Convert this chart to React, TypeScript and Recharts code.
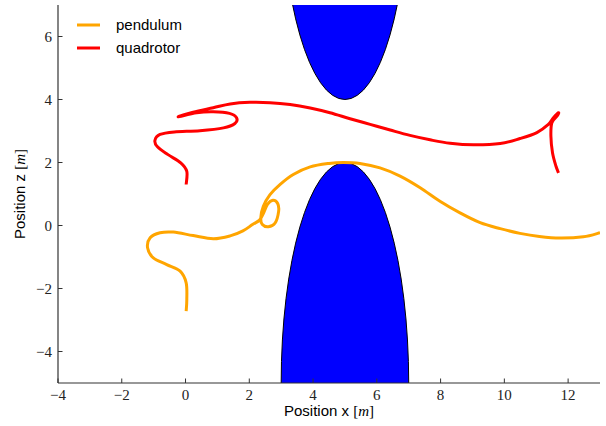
import React from "react";
import { ComposedChart, Line, XAxis, YAxis, Legend, ReferenceArea } from "recharts";

// trajectories (x, z in metres)
const pendulum = [
  { x: 0.02, y: -2.72 }, { x: 0.04, y: -2.35 }, { x: 0.02, y: -1.82 }, { x: -0.17, y: -1.45 },
  { x: -0.59, y: -1.24 }, { x: -1.01, y: -1.03 }, { x: -1.19, y: -0.71 }, { x: -1.11, y: -0.39 },
  { x: -0.8, y: -0.23 }, { x: -0.38, y: -0.21 }, { x: 0.24, y: -0.32 }, { x: 0.87, y: -0.42 },
  { x: 1.4, y: -0.33 }, { x: 1.8, y: -0.17 }, { x: 2.1, y: 0.03 }, { x: 2.32, y: 0.17 },
  { x: 2.44, y: 0.38 }, { x: 2.57, y: 0.67 }, { x: 2.74, y: 0.8 }, { x: 2.89, y: 0.7 },
  { x: 2.92, y: 0.45 }, { x: 2.81, y: 0.08 }, { x: 2.6, y: -0.04 }, { x: 2.41, y: 0.03 },
  { x: 2.36, y: 0.24 }, { x: 2.44, y: 0.61 }, { x: 2.65, y: 0.98 }, { x: 2.96, y: 1.3 },
  { x: 3.38, y: 1.62 }, { x: 3.91, y: 1.86 }, { x: 4.5, y: 1.97 }, { x: 4.95, y: 2.0 },
  { x: 5.47, y: 1.97 }, { x: 6.1, y: 1.83 }, { x: 6.73, y: 1.57 }, { x: 7.36, y: 1.2 },
  { x: 7.98, y: 0.77 }, { x: 8.61, y: 0.4 }, { x: 9.24, y: 0.09 }, { x: 9.87, y: -0.1 },
  { x: 10.49, y: -0.25 }, { x: 11.1, y: -0.35 }, { x: 11.75, y: -0.4 }, { x: 12.48, y: -0.36 },
  { x: 13.0, y: -0.23 },
];

const quadrotor = [
  { x: 0.02, y: 1.3 }, { x: 0.04, y: 1.72 }, { x: -0.15, y: 1.99 }, { x: -0.55, y: 2.25 },
  { x: -0.88, y: 2.5 }, { x: -0.96, y: 2.7 }, { x: -0.8, y: 2.89 }, { x: -0.35, y: 2.97 },
  { x: 0.45, y: 3.01 }, { x: 1.19, y: 3.1 }, { x: 1.55, y: 3.24 }, { x: 1.6, y: 3.42 },
  { x: 1.38, y: 3.56 }, { x: 0.87, y: 3.61 }, { x: 0.35, y: 3.58 }, { x: -0.23, y: 3.45 },
  { x: 0.24, y: 3.6 }, { x: 0.87, y: 3.74 }, { x: 1.4, y: 3.86 }, { x: 2.02, y: 3.91 },
  { x: 2.65, y: 3.9 }, { x: 3.28, y: 3.84 }, { x: 3.91, y: 3.73 }, { x: 4.53, y: 3.58 },
  { x: 5.16, y: 3.39 }, { x: 5.79, y: 3.21 }, { x: 6.42, y: 3.03 }, { x: 7.04, y: 2.86 },
  { x: 7.67, y: 2.72 }, { x: 8.3, y: 2.61 }, { x: 9.03, y: 2.56 }, { x: 9.87, y: 2.6 },
  { x: 10.49, y: 2.76 }, { x: 11.02, y: 2.95 }, { x: 11.38, y: 3.21 }, { x: 11.54, y: 3.42 },
  { x: 11.7, y: 3.58 }, { x: 11.65, y: 3.47 }, { x: 11.49, y: 3.26 }, { x: 11.46, y: 2.84 },
  { x: 11.51, y: 2.31 }, { x: 11.62, y: 1.88 }, { x: 11.7, y: 1.67 },
];

// obstacles: bounding boxes of the two ellipses
const obstacles = [
  { x1: 3, x2: 7, y1: -12, y2: 2 },
  { x1: 3, x2: 7, y1: 4, y2: 18 },
];

const xTicks = [-4, -2, 0, 2, 4, 6, 8, 10, 12];
const yTicks = [-4, -2, 0, 2, 4, 6];

const SERIF = "'Liberation Serif', 'DejaVu Serif', serif";
const SANS = "'Liberation Sans', Arial, sans-serif";
const AXIS = "#333";
const TICK_LEN = 4.5;

const fmt = (v: number) => String(v).replace("-", "\u2212");

// Catmull-Rom curve factory (passes through every point, works for loops)
function catmullRom(context: any) {
  let pts: number[][] = [];
  return {
    areaStart() {},
    areaEnd() {},
    lineStart() {
      pts = [];
    },
    point(x: number, y: number) {
      pts.push([+x, +y]);
    },
    lineEnd() {
      if (!pts.length) return;
      context.moveTo(pts[0][0], pts[0][1]);
      for (let i = 0; i < pts.length - 1; i++) {
        const p0 = pts[i - 1] || pts[i];
        const p1 = pts[i];
        const p2 = pts[i + 1];
        const p3 = pts[i + 2] || p2;
        context.bezierCurveTo(
          p1[0] + (p2[0] - p0[0]) / 6,
          p1[1] + (p2[1] - p0[1]) / 6,
          p2[0] - (p3[0] - p1[0]) / 6,
          p2[1] - (p3[1] - p1[1]) / 6,
          p2[0],
          p2[1]
        );
      }
    },
  };
}

const BottomTick = (props: any) => {
  const { x, y, payload } = props;
  return (
    <g>
      <line x1={x} x2={x} y1={y} y2={y - TICK_LEN} stroke={AXIS} />
      <text x={x} y={y + 17} textAnchor="middle" fontFamily={SERIF} fontSize={15} fill="#222">
        {fmt(payload.value)}
      </text>
    </g>
  );
};

const TopTick = (props: any) => {
  const { x, y } = props;
  return <line x1={x} x2={x} y1={y} y2={y + TICK_LEN} stroke={AXIS} />;
};

const LeftTick = (props: any) => {
  const { x, y, payload } = props;
  return (
    <g>
      <line x1={x} x2={x + TICK_LEN} y1={y} y2={y} stroke={AXIS} />
      <text x={x - 6} y={y + 5} textAnchor="end" fontFamily={SERIF} fontSize={15} fill="#222">
        {fmt(payload.value)}
      </text>
    </g>
  );
};

const RightTick = (props: any) => {
  const { x, y } = props;
  return <line x1={x} x2={x - TICK_LEN} y1={y} y2={y} stroke={AXIS} />;
};

const EllipseShape = (props: any) => {
  const { x, y, width, height, clipPath } = props;
  return (
    <ellipse
      cx={x + width / 2}
      cy={y + height / 2}
      rx={Math.abs(width) / 2}
      ry={Math.abs(height) / 2}
      fill="#0000ff"
      stroke="#000"
      strokeWidth={1}
      clipPath={clipPath}
    />
  );
};

const unitLabel = (name: string) => (
  <>
    <tspan fontFamily={SANS}>{name} </tspan>
    <tspan fontFamily={SERIF}>[</tspan>
    <tspan fontFamily={SERIF} fontStyle="italic">m</tspan>
    <tspan fontFamily={SERIF}>]</tspan>
  </>
);

const XLabel = (props: any) => {
  const { x, y, width } = props.viewBox;
  return (
    <text x={x + width / 2} y={y + 33} textAnchor="middle" fontSize={15} fill="#000">
      {unitLabel("Position x")}
    </text>
  );
};

const YLabel = (props: any) => {
  const { y, height } = props.viewBox;
  const cx = 25;
  const cy = y + height / 2;
  return (
    <text x={cx} y={cy} transform={`rotate(-90, ${cx}, ${cy})`} textAnchor="middle" fontSize={15} fill="#000">
      {unitLabel("Position z")}
    </text>
  );
};

const LegendContent = (props: any) => (
  <div style={{ fontFamily: SANS, fontSize: 15, color: "#000" }}>
    {(props.payload || []).map((e: any) => (
      <div key={e.value} style={{ display: "flex", alignItems: "center", height: 23 }}>
        <svg width={23} height={6}>
          <line x1={0} x2={23} y1={3} y2={3} stroke={e.color} strokeWidth={3} />
        </svg>
        <span style={{ marginLeft: 16 }}>{e.value}</span>
      </div>
    ))}
  </div>
);

export default function App() {
  return (
    <div style={{ position: "absolute", left: 0, top: 0 }}>
      <ComposedChart width={606} height={426} margin={{ top: 5, right: 6, bottom: 0, left: 0 }}>
        <XAxis
          dataKey="x"
          type="number"
          domain={[-4, 13]}
          allowDataOverflow
          ticks={xTicks}
          interval={0}
          tickSize={0}
          tickMargin={0}
          tickLine={false}
          tick={<BottomTick />}
          axisLine={{ stroke: AXIS, strokeWidth: 1.2 }}
          height={43}
          label={{ content: <XLabel /> }}
        />
        <XAxis
          xAxisId="top"
          orientation="top"
          type="number"
          domain={[-4, 13]}
          allowDataOverflow
          ticks={xTicks}
          interval={0}
          tickSize={0}
          tickMargin={0}
          tickLine={false}
          tick={<TopTick />}
          axisLine={{ stroke: AXIS, strokeWidth: 1.2 }}
          height={0}
        />
        <YAxis
          type="number"
          domain={[-5, 7]}
          allowDataOverflow
          ticks={yTicks}
          interval={0}
          tickSize={0}
          tickMargin={0}
          tickLine={false}
          tick={<LeftTick />}
          axisLine={{ stroke: AXIS, strokeWidth: 1.2 }}
          width={58}
          label={{ content: <YLabel /> }}
        />
        <YAxis
          yAxisId="right"
          orientation="right"
          type="number"
          domain={[-5, 7]}
          allowDataOverflow
          ticks={yTicks}
          interval={0}
          tickSize={0}
          tickMargin={0}
          tickLine={false}
          tick={<RightTick />}
          axisLine={{ stroke: AXIS, strokeWidth: 1.2 }}
          width={0}
        />
        {obstacles.map((o, i) => (
          <ReferenceArea key={i} {...o} ifOverflow="hidden" shape={<EllipseShape />} />
        ))}
        <Line
          data={pendulum}
          dataKey="y"
          name="pendulum"
          type={catmullRom as any}
          stroke="#ffa500"
          strokeWidth={3}
          dot={false}
          isAnimationActive={false}
        />
        <Line
          data={quadrotor}
          dataKey="y"
          name="quadrotor"
          type={catmullRom as any}
          stroke="#ff0000"
          strokeWidth={3}
          dot={false}
          isAnimationActive={false}
        />
        <Legend
          layout="vertical"
          align="center"
          verticalAlign="middle"
          content={<LegendContent />}
          wrapperStyle={{ left: 77, top: 13, width: "auto", height: "auto" }}
        />
      </ComposedChart>
    </div>
  );
}
